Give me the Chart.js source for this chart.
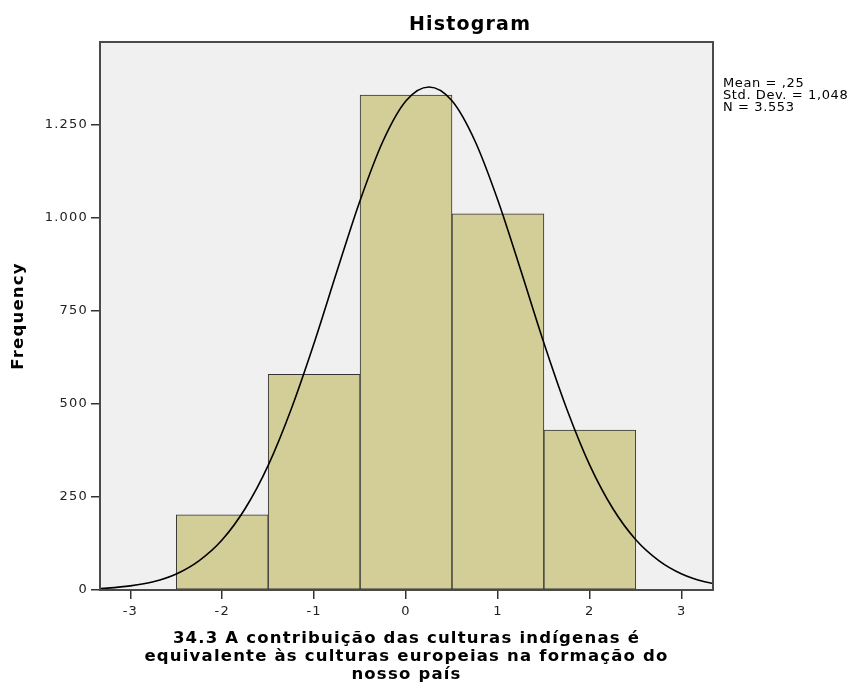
<!DOCTYPE html>
<html>
<head>
<meta charset="utf-8">
<script src="https://cdn.jsdelivr.net/npm/chart.js@4/dist/chart.umd.min.js"></script>
<style>
  html, body { margin: 0; padding: 0; background: #fff; }
</style>
</head>
<body>
<canvas id="histChart" width="854" height="697"></canvas>
<script>
"use strict";

// histogram bins (bin centre, count)
var binCenters = [-2, -1, 0, 1, 2];
var binCounts = [202, 580, 1330, 1011, 430];

// normal curve
var curveX = [-3.4, -3.25, -3, -2.75, -2.5, -2.25, -2, -1.75, -1.5, -1.25, -1, -0.75, -0.5, -0.25,
              0, 0.25, 0.5, 0.75, 1, 1.25, 1.5, 1.75, 2, 2.25, 2.5, 2.75, 3, 3.25, 3.4];
var curveY = [3, 5, 11, 22, 43, 79, 135, 219, 335, 486, 664, 858, 1047, 1207,
              1315, 1352, 1315, 1207, 1047, 858, 664, 486, 335, 219, 135, 79, 43, 22, 15];

var xTickValues = [-3, -2, -1, 0, 1, 2, 3];
var yTickValues = [0, 250, 500, 750, 1000, 1250];

var statLines = ['Mean = ,25', 'Std. Dev. = 1,048', 'N = 3.553'];
var chartTitle = 'Histogram';
var xTitle = ['34.3 A contribuição das culturas indígenas é',
              'equivalente às culturas europeias na formação do',
              'nosso país'];
var yTitle = 'Frequency';

Chart.defaults.font.family = "'DejaVu Sans', sans-serif";
Chart.defaults.color = '#222';

var spssPlugin = {
    id: 'spssFrame',
    beforeDraw: function (chart) {
        var ctx = chart.ctx, a = chart.chartArea;
        ctx.letterSpacing = '1.2px';
        ctx.save();
        ctx.fillStyle = '#f0f0f0';
        ctx.fillRect(a.left, a.top, a.right - a.left, a.bottom - a.top);
        ctx.restore();
    },
    afterDatasetsDraw: function (chart) {
        var ctx = chart.ctx, a = chart.chartArea;
        ctx.save();
        ctx.strokeStyle = '#4a4a4a';
        ctx.lineWidth = 2;
        ctx.strokeRect(a.left, a.top, a.right - a.left, a.bottom - a.top);
        ctx.restore();
    },
    afterDraw: function (chart) {
        var ctx = chart.ctx;
        ctx.save();
        ctx.fillStyle = '#000';
        ctx.letterSpacing = '1.2px';
        ctx.font = "bold 19px 'DejaVu Sans', sans-serif";
        ctx.textAlign = 'center';
        ctx.textBaseline = 'alphabetic';
        ctx.fillText(chartTitle, 470, 29.5);

        ctx.letterSpacing = '0.6px';
        ctx.font = "13px 'DejaVu Sans', sans-serif";
        ctx.textAlign = 'left';
        for (var i = 0; i < statLines.length; i++) {
            ctx.fillText(statLines[i], 723, 86.5 + i * 12);
        }
        ctx.restore();
    }
};

function thousands(v) {
    if (v >= 1000) {
        return Math.floor(v / 1000) + '.' + String(v % 1000).padStart(3, '0');
    }
    return String(v);
}

var histChart = new Chart(document.getElementById('histChart'), {
    type: 'bar',
    data: {
        datasets: [{
            type: 'line',
            data: curveX.map(function (x, i) { return { x: x, y: curveY[i] }; }),
            borderColor: '#000',
            borderWidth: 1.6,
            pointRadius: 0,
            fill: false,
            cubicInterpolationMode: 'monotone',
            order: 0
        }, {
            type: 'bar',
            data: binCenters.map(function (x, i) { return { x: x, y: binCounts[i] }; }),
            backgroundColor: '#d3ce97',
            borderColor: '#333',
            borderWidth: 1,
            borderSkipped: false,
            barPercentage: 1,
            categoryPercentage: 1,
            order: 1
        }]
    },
    options: {
        responsive: false,
        animation: false,
        events: [],
        layout: { padding: { left: 0, right: 141, top: 42, bottom: 0 } },
        plugins: { legend: { display: false }, tooltip: { enabled: false }, title: { display: false } },
        scales: {
            x: {
                type: 'linear',
                min: -3.33,
                max: 3.34,
                offset: false,
                grid: { offset: false, drawOnChartArea: false, drawTicks: true, tickLength: 9, color: '#333', lineWidth: 1.5 },
                border: { display: true, color: '#4a4a4a', width: 2 },
                afterBuildTicks: function (s) {
                    s.ticks = xTickValues.map(function (v) { return { value: v }; });
                },
                ticks: {
                    padding: 5,
                    color: '#222',
                    font: { size: 13 },
                    callback: function (v) { return String(v); }
                },
                title: {
                    display: true,
                    text: xTitle,
                    color: '#000',
                    font: { size: 16.5, weight: 'bold', lineHeight: 1.1 },
                    padding: { top: 0, bottom: 13 }
                },
                afterFit: function (s) { s.height = 107; }
            },
            y: {
                type: 'linear',
                min: 0,
                max: 1473,
                grid: { drawOnChartArea: false, drawTicks: true, tickLength: 9, color: '#333', lineWidth: 1.5 },
                border: { display: true, color: '#4a4a4a', width: 2 },
                afterBuildTicks: function (s) {
                    s.ticks = yTickValues.map(function (v) { return { value: v }; });
                },
                ticks: {
                    padding: 3,
                    color: '#222',
                    font: { size: 13 },
                    callback: function (v) { return thousands(v); }
                },
                title: {
                    display: true,
                    text: yTitle,
                    color: '#000',
                    font: { size: 16.5, weight: 'bold' },
                    padding: { top: 9, bottom: 0 }
                },
                afterFit: function (s) { s.width = 100; }
            }
        }
    },
    plugins: [spssPlugin]
});
</script>
</body>
</html>
